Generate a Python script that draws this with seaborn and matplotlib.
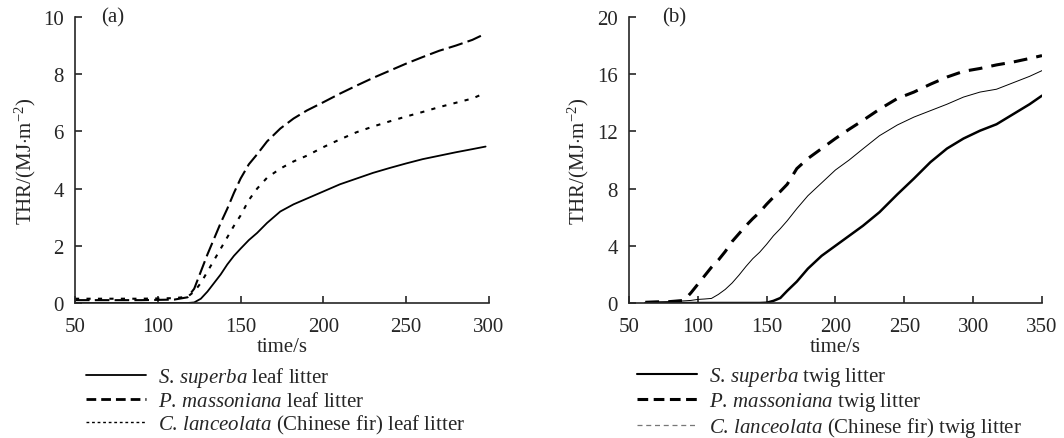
import matplotlib
matplotlib.use("Agg")
import matplotlib.pyplot as plt
from matplotlib.lines import Line2D
import numpy as np
import seaborn as sns

# ---- data ----
time_a = [50, 70, 90, 110, 118, 122, 126, 130, 134, 138, 142, 146, 150, 155, 160,
          166, 174, 182, 190, 200, 210, 220, 230, 240, 250, 260, 270, 280, 290, 298]
superba_leaf = [0, 0, 0, 0, 0, 0.02, 0.15, 0.4, 0.7, 1.0, 1.35, 1.65, 1.9, 2.2, 2.45,
                2.8, 3.2, 3.45, 3.65, 3.9, 4.15, 4.35, 4.55, 4.72, 4.88, 5.03, 5.15, 5.27, 5.38, 5.47]
massoniana_leaf = [0.1, 0.1, 0.1, 0.12, 0.2, 0.5, 1.1, 1.7, 2.25, 2.8, 3.3, 3.85, 4.35, 4.85, 5.2,
                   5.65, 6.1, 6.45, 6.73, 7.02, 7.32, 7.6, 7.87, 8.12, 8.37, 8.6, 8.82, 9.0, 9.2, 9.42]
lanceolata_leaf = [0.15, 0.15, 0.15, 0.17, 0.22, 0.4, 0.7, 1.1, 1.5, 1.9, 2.3, 2.7, 3.06, 3.6, 4.0,
                   4.38, 4.7, 4.95, 5.15, 5.45, 5.72, 5.97, 6.17, 6.35, 6.52, 6.68, 6.85, 7.0, 7.15, 7.35]

time_b = [62, 70, 80, 90, 95, 100, 105, 110, 115, 120, 125, 130, 135, 140, 145, 150, 155, 160,
          165, 172, 180, 190, 200, 210, 220, 232, 245, 257, 269, 281, 293, 305, 317, 329, 341, 350]
superba_twig = [0, 0, 0, 0, 0, 0, 0, 0, 0, 0, 0, 0, 0, 0, 0, 0.02, 0.15, 0.35,
                0.85, 1.5, 2.4, 3.3, 4.0, 4.7, 5.4, 6.35, 7.6, 8.7, 9.85, 10.8, 11.5, 12.05, 12.5, 13.2, 13.9, 14.5]
massoniana_twig = [0.05, 0.08, 0.1, 0.18, 0.7, 1.3, 1.9, 2.5, 3.0, 3.6, 4.3, 4.85, 5.4, 5.9, 6.35, 6.9, 7.4, 7.8,
                   8.3, 9.4, 10.1, 10.8, 11.5, 12.15, 12.77, 13.55, 14.3, 14.75, 15.3, 15.8, 16.2, 16.4, 16.65, 16.85, 17.1, 17.3]
lanceolata_twig = [0.05, 0.08, 0.1, 0.15, 0.18, 0.25, 0.28, 0.32, 0.6, 0.95, 1.4, 1.95, 2.55, 3.1, 3.55, 4.1, 4.7, 5.2,
                   5.75, 6.6, 7.5, 8.4, 9.3, 10.0, 10.78, 11.7, 12.45, 13.0, 13.45, 13.9, 14.4, 14.75, 14.95, 15.4, 15.85, 16.25]

labels_a = [r"$\mathit{S.\,superba}$ leaf litter",
            r"$\mathit{P.\,massoniana}$ leaf litter",
            r"$\mathit{C.\,lanceolata}$ (Chinese fir) leaf litter"]
labels_b = [r"$\mathit{S.\,superba}$ twig litter",
            r"$\mathit{P.\,massoniana}$ twig litter",
            r"$\mathit{C.\,lanceolata}$ (Chinese fir) twig litter"]

sns.set_theme(style="ticks")
plt.rcParams["font.family"] = ["Liberation Serif", "DejaVu Serif"]
plt.rcParams["mathtext.fontset"] = "custom"
plt.rcParams["mathtext.rm"] = "Liberation Serif"
plt.rcParams["mathtext.it"] = "Liberation Serif:italic"
plt.rcParams["axes.linewidth"] = 1.2

FS = 15
ylab = r"THR/(MJ$\cdot$m$^{-2}$)"

fig = plt.figure(figsize=(10.64, 4.39), dpi=100)
ax_a = fig.add_axes([0.0705, 0.3075, 0.389, 0.6515])
ax_b = fig.add_axes([0.591, 0.3075, 0.3883, 0.6515])

# panel (a)
sns.lineplot(x=time_a, y=superba_leaf, ax=ax_a, color="black", lw=1.3, estimator=None)
sns.lineplot(x=time_a, y=massoniana_leaf, ax=ax_a, color="black", lw=1.5,
             linestyle=(0, (7, 2.5)), estimator=None)
sns.lineplot(x=time_a, y=lanceolata_leaf, ax=ax_a, color="black", lw=1.5,
             linestyle=(0, (2, 3.5)), estimator=None)
ax_a.set_xlim(50, 300)
ax_a.set_ylim(0, 10)
ax_a.set_xticks(np.arange(50, 301, 50))
ax_a.set_yticks(np.arange(0, 11, 2))

# panel (b)
sns.lineplot(x=time_b, y=superba_twig, ax=ax_b, color="black", lw=1.8, estimator=None)
sns.lineplot(x=time_b, y=massoniana_twig, ax=ax_b, color="black", lw=2.2,
             linestyle=(0, (4.5, 3)), estimator=None)
sns.lineplot(x=time_b, y=lanceolata_twig, ax=ax_b, color="black", lw=0.7, estimator=None)
ax_b.set_xlim(50, 350)
ax_b.set_ylim(0, 20)
ax_b.set_xticks(np.arange(50, 351, 50))
ax_b.set_yticks(np.arange(0, 21, 4))

for ax, tag, tx in [(ax_a, "(a)", 0.092), (ax_b, "(b)", 0.109)]:
    sns.despine(ax=ax)
    ax.tick_params(direction="in", length=5, width=1.2, labelsize=FS)
    ax.tick_params(axis="x", pad=10)
    ax.tick_params(axis="y", pad=8)
    ax.set_xlabel("time/s", fontsize=FS, labelpad=1)
    ax.set_ylabel(ylab, fontsize=FS, labelpad=4)
    ax.text(tx, 1.0, tag, transform=ax.transAxes, fontsize=FS, ha="center", va="center")

# legends below each panel
h_a = [Line2D([], [], color="black", lw=1.3),
       Line2D([], [], color="black", lw=2.0, linestyle=(0, (3.5, 1.8))),
       Line2D([], [], color="black", lw=1.0, linestyle=(0, (2, 2)))]
h_b = [Line2D([], [], color="black", lw=1.5),
       Line2D([], [], color="black", lw=2.2, linestyle=(0, (3.5, 1.8))),
       Line2D([], [], color="#777777", lw=0.9, linestyle=(0, (4, 3)))]

for handles, labels, x0 in [(h_a, labels_a, 0.0808), (h_b, labels_b, 0.5987)]:
    fig.legend(handles, labels, loc="upper left", bbox_to_anchor=(x0, 0.166),
               bbox_transform=fig.transFigure, frameon=False, fontsize=FS,
               handlelength=2.9, handletextpad=0.55, labelspacing=0.1,
               borderpad=0, borderaxespad=0)

fig.savefig("out.png", dpi=100)
